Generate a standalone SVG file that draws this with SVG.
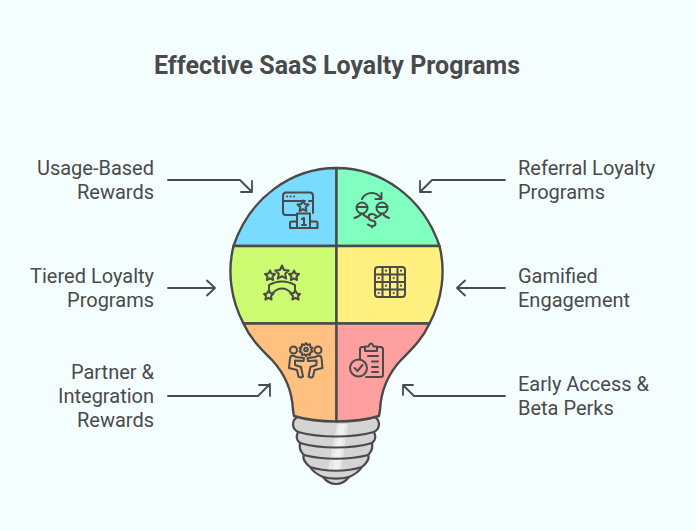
<svg xmlns="http://www.w3.org/2000/svg" width="696" height="531" viewBox="0 0 696 531">
<style>
text{font-family:Roboto,"Liberation Sans",sans-serif;font-size:20px;fill:#4a4a4a}
.t{font-size:25px;font-weight:700}
.e{text-anchor:end}
.seg{stroke:#4a4a4a;stroke-width:2.4;stroke-linejoin:round}
.i{fill:none;stroke:#4a4a4a;stroke-width:2;stroke-linecap:round;stroke-linejoin:round}
.d{fill:#4a4a4a;stroke:none}
.c{fill:none;stroke:#4a4a4a;stroke-width:1.8;stroke-linecap:round;stroke-linejoin:round}
.b{stroke:#4a4a4a;stroke-width:2.2;stroke-linejoin:round}
</style>
<rect width="696" height="531" fill="#f5feff"/>
<text class="t" x="154" y="73.500">Effective SaaS Loyalty Programs</text>

<g id="connectors">
<path class="c" d="M168 180H240L252 192M252 181V192H241"/>
<path class="c" d="M505 180H432L420 192M420 181V192H431"/>
<path class="c" d="M168 288H215M207 280.500L215 288L207 295.500"/>
<path class="c" d="M505 288H457M465 280.500L457 288L465 295.500"/>
<path class="c" d="M168 396H258L270 384M259 385H270V396"/>
<path class="c" d="M505 396H414L403 385M413 385H403V395"/>
</g>

<g id="socket">
<path fill="#d4d4d4" d="M299 416C295 418 293 421 293 424C293 428 296 431 298 432C296 436 296 440 300 443C299 447 300 451 304 455C302 458 305 463 310 467C312 470 316 474 323 477C326 481 331 484 336 484C341 484 346 481 349 477C356 474 360 470 362 467C367 463 370 458 368 455C372 451 373 447 372 443C376 440 376 436 374 432C376 431 379 428 379 424C379 421 377 418 373 416Z"/>
<path d="M337 424L348 424L341 470L328 470Z" fill="#e6e6e6"/>
<path d="M339 424L345 424L339 470L333 470Z" fill="#f0f0f0"/>
<path class="b" fill="none" d="M298 432C320 438 352 438 374 432M300 443C320 449 352 449 372 443M304 455C322 460 350 460 368 455M310 467C325 472 347 472 362 467M323 477C331 479 341 479 349 477"/>
<path class="b" fill="none" d="M299 416C295 418 293 421 293 424C293 428 296 431 298 432C296 436 296 440 300 443C299 447 300 451 304 455C302 458 305 463 310 467C312 470 316 474 323 477C326 481 331 484 336 484C341 484 346 481 349 477C356 474 360 470 362 467C367 463 370 458 368 455C372 451 373 447 372 443C376 440 376 436 374 432C376 431 379 428 379 424C379 421 377 418 373 416"/>
</g>

<g id="usage-based-rewards">
<path class="seg" fill="#78dbff" d="M336.500 168C292 168 250 197 233.500 246H336.500Z"/>
<g class="i">
<path d="M297 215H286Q283 215 283 212V196Q283 192.500 286 192.500H310Q313 192.500 313 196V213M283 201H305M309 201H313"/>
<path d="M303 200.500L304.700 204L308.500 204.500L305.700 207.200L306.400 211L303 209.200L299.600 211L300.300 207.200L297.500 204.500L301.300 204Z"/>
<path d="M297 228V213.500H310V228M297 221.500H291.500Q290 221.500 290 223V228H317.500V223Q317.500 221.500 316 221.500H310M297 228H310M302 219L304 218V225M302 225H306"/>
</g>
<circle class="d" cx="287" cy="196.500" r="1"/><circle class="d" cx="290.500" cy="196.500" r="1"/><circle class="d" cx="294" cy="196.500" r="1"/>
<text class="e" x="154" y="175">Usage-Based</text>
<text class="e" x="154" y="199">Rewards</text>
</g>

<g id="referral-loyalty-programs">
<path class="seg" fill="#80ffc0" d="M336.500 168C381 168 423 197 439.500 246H336.500Z"/>
<g class="i">
<circle cx="362" cy="208" r="5.500"/><circle cx="382" cy="208" r="5.500"/>
<path d="M357 207H367M377 207H387"/>
<path d="M354.500 218Q360 216 361 214M369 218Q364 216 363 214M375 218Q380 216 381 214M389 218Q384 216 383 214"/>
<path d="M362 199Q365 193 372 193Q378 193 381 198.500M381.500 193V199H375.500"/>
<path d="M376 215.500Q374 214 372 214Q368.500 214 368.500 217Q368.500 220 372 220.500Q375.500 221 375.500 223.500Q375.500 226 372 226Q369.500 226 368 224.500M372 226V227.500"/>
</g>
<text x="518" y="175">Referral Loyalty</text>
<text x="518" y="199">Programs</text>
</g>

<g id="tiered-loyalty-programs">
<path class="seg" fill="#ccfa70" d="M233.500 246C227 272 231 300 243.500 323.500H336.500V246Z"/>
<g class="i">
<path d="M282 265.500L284 270L288.800 270.500L285.200 273.800L286.200 278.600L282 276.200L277.800 278.600L278.800 273.800L275.200 270.500L280 270Z"/>
<path d="M270 270.500L271.500 273.600L275 274L272.500 276.500L273.100 280L270 278.300L266.900 280L267.500 276.500L265 274L268.500 273.600Z"/>
<path d="M294 270.500L295.500 273.600L299 274L296.500 276.500L297.100 280L294 278.300L290.900 280L291.500 276.500L289 274L292.500 273.600Z"/>
<path d="M269 289V285Q275 281.500 282 281.500Q289 281.500 295 285V289"/>
<path d="M273 293Q277 288.500 282 288.500Q287 288.500 291 293"/>
<path d="M269 290L270 293L273.500 293.500L271 296L271.600 299.500L268.500 297.800L265.400 299.500L266 296L264 294L267 293.500Z"/>
<path d="M295 290L294 293L290.500 293.500L293 296L292.400 299.500L295.500 297.800L298.600 299.500L298 296L300 294L297 293.500Z"/>
</g>
<text class="e" x="154" y="283">Tiered Loyalty</text>
<text class="e" x="154" y="307">Programs</text>
</g>

<g id="gamified-engagement">
<path class="seg" fill="#fff07f" d="M439.500 246C446 272 442 300 429.500 323.500H336.500V246Z"/>
<g class="i">
<rect x="375" y="267" width="30" height="30" rx="3"/>
<path d="M382.500 267V297M390 267V297M397.500 267V297M375 274.500H405M375 282H405M375 289.500H405"/>
</g>
<g class="d">
<circle cx="386" cy="270.700" r="1.100"/><circle cx="401" cy="270.700" r="1.100"/>
<circle cx="378.700" cy="278" r="1.100"/><circle cx="393.700" cy="278" r="1.100"/>
<circle cx="386" cy="285.700" r="1.100"/><circle cx="401" cy="285.700" r="1.100"/>
<circle cx="378.700" cy="293" r="1.100"/><circle cx="393.700" cy="293" r="1.100"/>
</g>
<text x="518" y="283">Gamified</text>
<text x="518" y="307">Engagement</text>
</g>

<g id="partner-integration-rewards">
<path class="seg" fill="#ffc080" d="M243.500 323.500C251 340 262 350 272 360C284 373 292 388 293 410L294 416C307 420 322 421.500 336.500 421.500V323.500Z"/>
<g class="i">
<circle cx="293.500" cy="350" r="3.500"/><circle cx="318" cy="350" r="3.500"/>
<path d="M290 358L289 368L297 370L298.500 376.500Q300.500 378.500 303 376.500L301 367L295 365L295 360.500L303.500 361L304 358L296 357Q294 355 291 356Z"/>
<path d="M321.500 358L322.500 368L314.500 370L313 376.500Q311 378.500 308.500 376.500L310.500 367L316.500 365L316.500 360.500L308 361L307.500 358L315.500 357Q317.500 355 320.500 356Z"/>
<path d="M306 343L307.500 345L310 344.300L310.300 346.800L312.500 348L311 349.500L312.500 351.500L310.300 352.500L310 355L307.500 354.300L306 356L304.500 354.300L302 355L301.700 352.500L299.500 351.500L301 349.500L299.500 348L301.700 346.800L302 344.300L304.500 345Z"/>
<circle cx="306" cy="349.500" r="1.800"/>
</g>
<text class="e" x="154" y="379">Partner &amp;</text>
<text class="e" x="154" y="403">Integration</text>
<text class="e" x="154" y="427">Rewards</text>
</g>

<g id="early-access-beta-perks">
<path class="seg" fill="#ffa0a0" d="M429.500 323.500C422 340 411 350 401 360C389 373 381 388 380 410L379 416C366 420 351 421.500 336.500 421.500V323.500Z"/>
<g class="i">
<path d="M360 359V349.500Q360 347 362 347H365M377 347H380.500Q383 347 383 349.500V375Q383 377 380.500 377H366"/>
<path d="M365 351V346.500H368.500Q369.500 343.500 371 343.500Q372.500 343.500 373.500 346.500H377V351Z"/>
<path d="M368 356H378M372 361.500H378M372 367H378M372 372H378"/>
<circle cx="358.500" cy="368" r="8.500"/>
<path d="M354.500 368L357.500 371L362.500 365"/>
</g>
<text x="518" y="391">Early Access &amp;</text>
<text x="518" y="415">Beta Perks</text>
</g>
</svg>
